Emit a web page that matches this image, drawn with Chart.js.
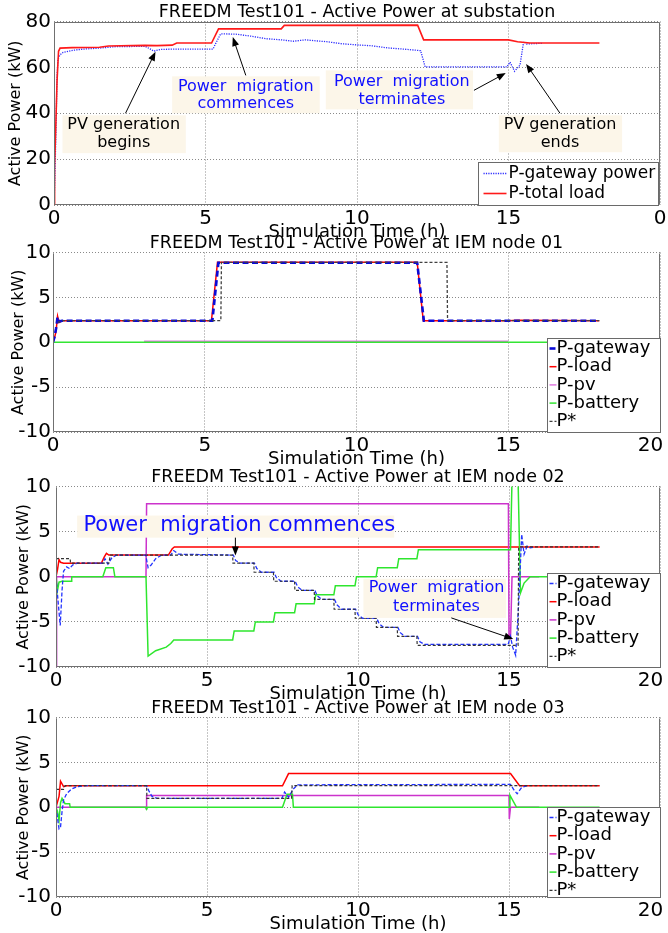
<!DOCTYPE html>
<html>
<head>
<meta charset="utf-8">
<script src="https://cdn.jsdelivr.net/npm/chart.js@4.4.0/dist/chart.umd.min.js"></script>
<style>
  html, body { margin: 0; padding: 0; background: #fff; overflow: hidden; }
  #wrap { position: relative; width: 668px; height: 933px; overflow: hidden; }
  canvas { position: absolute; left: 0; }
</style>
</head>
<body>
<div id="wrap">
  <canvas id="sub" width="668" height="246" style="top:-1px"></canvas>
  <canvas id="node1" width="668" height="242" style="top:230px"></canvas>
  <canvas id="node2" width="668" height="243" style="top:464px"></canvas>
  <canvas id="node3" width="668" height="242" style="top:695px"></canvas>
</div>
<script>
// axis ticks
const xTicks = [0, 5, 10, 15, 20];
const subXLabels = ['0', '5', '10', '15', '0'];
const nodeXLabels = ['0', '5', '10', '15', '20   '];   // last one sits left of its tick in the original
const subYTicks = [0, 20, 40, 60, 80];
const nodeYTicks = [-10, -5, 0, 5, 10];

// substation (kW vs hours)
const subGatewayTime = [0, 0.03, 0.06, 0.1, 0.13, 0.2, 0.3, 0.65, 1.0, 1.5, 2.0, 3.0, 3.15, 3.3, 3.5, 4.0, 5.25, 5.32, 5.5, 6.0, 6.5, 7.0, 7.5, 7.9, 8.3, 8.7, 9.0, 9.5, 10.0, 10.5, 11.0, 11.5, 12.1, 12.25, 14.95, 15.05, 15.2, 15.38, 15.5, 15.6, 16.1];
const subGatewayKw = [0, 12, 30, 56, 63.5, 65.5, 66.5, 67.5, 68.0, 68.4, 69.0, 69.2, 68.2, 67.1, 67.8, 68.0, 68.0, 70, 74.6, 74.5, 73.6, 72.5, 72.0, 71.4, 72.0, 71.5, 71.2, 70.3, 69.8, 69.4, 68.5, 68.0, 67.3, 60.2, 60.2, 62.3, 58.3, 61.0, 71.2, 70.2, 70.5];
const subLoadTime = [0, 0.02, 0.05, 0.1, 0.15, 0.2, 0.6, 1.5, 1.8, 3.0, 3.4, 3.9, 4.05, 5.2, 5.43, 7.5, 7.6, 12.0, 12.2, 15.0, 15.3, 15.7, 18.0];
const subLoadKw = [0, 17, 30, 54, 67, 68.4, 68.6, 68.8, 69.3, 69.6, 69.5, 69.7, 70.6, 70.6, 76.8, 76.8, 78.3, 78.4, 72.0, 72.0, 71.2, 70.6, 70.6];

// IEM node 01
const n1GatewayTime = [0, 0.05, 0.1, 0.15, 0.2, 0.3, 5.25, 5.45, 12.0, 12.22, 18.0];
const n1GatewayKw = [0, 0.6, 1.5, 2.8, 2.3, 2.4, 2.4, 8.85, 8.85, 2.4, 2.4];
const n1LoadTime = [0, 0.05, 0.1, 0.15, 0.2, 0.3, 5.22, 5.42, 12.0, 12.2, 15.0, 15.3, 18.0];
const n1LoadKw = [0, 0.5, 1.2, 2.9, 2.2, 2.4, 2.4, 8.9, 8.9, 2.4, 2.4, 2.45, 2.4];
const n1PvTime = [3.0, 15.0];
const n1PvKw = [0.1, 0.1];
const n1BatteryTime = [0, 18.0];
const n1BatteryKw = [0, 0];
const n1StarTime = [0.15, 0.3, 5.53, 5.55, 12.98, 13.0, 18.0];
const n1StarKw = [2.2, 2.4, 2.4, 8.9, 8.9, 2.4, 2.4];

// IEM node 02
const n2GatewayTime = [0, 0.05, 0.14, 0.2, 0.25, 0.35, 0.45, 0.55, 0.7, 1.55, 1.62, 1.72, 1.85, 2.0, 2.97, 3.05, 3.15, 3.3, 3.5, 3.8, 3.9, 4.05, 5.87, 5.95, 6.1, 6.57, 6.65, 6.8, 7.22, 7.3, 7.45, 7.92, 8.0, 8.15, 8.57, 8.65, 8.8, 9.22, 9.3, 9.45, 9.92, 10.0, 10.15, 10.62, 10.7, 10.85, 11.32, 11.4, 11.55, 11.97, 12.05, 12.2, 14.97, 15.05, 15.12, 15.22, 15.32, 15.42, 15.5, 15.6, 15.7, 15.85];
const n2GatewayKw = [0, -2.0, -5.4, -1.5, 0.6, 1.1, 0.9, 1.3, 1.5, 1.5, 2.0, 1.4, 2.1, 2.4, 2.4, 1.0, 1.3, 2.0, 2.4, 2.4, 2.9, 2.5, 2.4, 1.8, 1.5, 1.5, 0.9, 0.5, 0.5, -0.1, -0.5, -0.5, -1.1, -1.5, -1.5, -2.1, -2.5, -2.5, -3.1, -3.6, -3.6, -4.2, -4.6, -4.6, -5.2, -5.6, -5.6, -6.2, -6.6, -6.6, -7.2, -7.5, -7.5, -6.6, -7.8, -8.7, -3.0, 4.7, 2.5, 3.4, 3.2, 3.3];
const n2LoadTime = [0, 0.05, 0.1, 0.15, 0.25, 1.5, 1.6, 1.67, 1.75, 3.72, 3.85, 3.92, 18.0];
const n2LoadKw = [0, 0.8, 1.9, 1.6, 1.5, 1.5, 2.2, 2.6, 2.4, 2.4, 3.1, 3.3, 3.3];
const n2PvTime = [0, 0.02, 2.98, 3.0, 14.98, 15.0, 15.05, 15.1, 16.0];
const n2PvKw = [-10, 0, 0, 8.1, 8.1, -6.5, -6.8, 0, 0];
const n2BatteryTime = [0, 0.05, 0.1, 0.2, 0.5, 0.52, 1.55, 1.65, 1.9, 1.95, 2.98, 3.05, 3.3, 3.65, 3.8, 3.9, 5.85, 5.9, 6.55, 6.6, 7.2, 7.25, 7.9, 7.95, 8.55, 8.6, 9.2, 9.25, 9.9, 9.95, 10.6, 10.65, 11.3, 11.35, 11.95, 12.0, 15.05, 15.1, 15.3, 15.38, 15.5, 15.7, 18.0];
const n2BatteryKw = [0, -1.5, -0.6, -0.5, -0.5, 0, 0, 1.0, 1.0, 0, 0, -8.8, -8.2, -7.8, -7.4, -7.0, -7.0, -6.0, -6.0, -5.0, -5.0, -4.0, -4.0, -3.0, -3.0, -2.0, -2.0, -1.0, -1.0, 0, 0, 1.0, 1.0, 2.0, 2.0, 3.0, 3.0, 10.8, 10.8, -1.8, -0.7, 0, 0];
const n2StarTime = [0, 0.47, 0.48, 1.75, 1.8, 5.85, 5.86, 6.55, 6.56, 7.2, 7.21, 7.9, 7.91, 8.55, 8.56, 9.2, 9.21, 9.9, 9.91, 10.6, 10.61, 11.3, 11.31, 11.95, 11.96, 15.3, 15.32, 18.0];
const n2StarKw = [2.0, 2.0, 1.5, 1.5, 2.4, 2.4, 1.5, 1.5, 0.5, 0.5, -0.5, -0.5, -1.5, -1.5, -2.5, -2.5, -3.6, -3.6, -4.6, -4.6, -5.6, -5.6, -6.6, -6.6, -7.6, -7.6, 3.3, 3.3];

// IEM node 03
const n3GatewayTime = [0, 0.05, 0.1, 0.15, 0.2, 0.25, 0.35, 0.5, 0.7, 1.0, 3.0, 3.08, 3.18, 3.35, 7.48, 7.57, 7.7, 7.85, 8.0, 8.3, 15.05, 15.15, 15.27, 15.42, 15.6];
const n3GatewayKw = [0, -1.2, -2.4, -2.2, -0.5, 0.8, 1.5, 2.0, 2.3, 2.4, 2.4, 1.8, 1.2, 1.0, 1.0, 1.7, 1.1, 2.0, 2.5, 2.5, 2.55, 2.0, 1.5, 2.2, 2.4];
const n3LoadTime = [0, 0.05, 0.1, 0.15, 0.25, 0.35, 7.5, 7.7, 15.05, 15.35, 18.0];
const n3LoadKw = [0, 0.6, 1.2, 2.9, 2.3, 2.4, 2.4, 3.75, 3.75, 2.4, 2.4];
const n3PvTime = [0, 0.01, 2.97, 2.99, 3.0, 15.0, 15.01, 15.05, 16.0];
const n3PvKw = [-4.5, 0, 0, -0.2, 1.3, 1.3, -1.3, 0, 0];
const n3BatteryTime = [0, 0.05, 0.1, 0.15, 0.2, 0.3, 0.45, 0.47, 2.98, 3.0, 3.03, 7.5, 7.65, 7.83, 7.86, 15.0, 15.03, 15.25, 18.0];
const n3BatteryKw = [0, -0.5, -1.5, 0.5, 1.0, 0.4, 0.4, 0, 0, -0.2, 0, 0, 1.45, 1.45, 0, 0, 1.35, 0, 0];
const n3StarTime = [0, 0.25, 0.3, 3.0, 3.01, 7.8, 7.82, 18.0];
const n3StarKw = [2.0, 2.0, 2.4, 2.4, 1.0, 1.0, 2.4, 2.4];

Chart.defaults.font.family = '"DejaVu Sans", Verdana, sans-serif';
Chart.defaults.color = '#000';

const pts = (t, v) => t.map((x, i) => ({ x: x, y: v[i] }));

function line(label, t, v, color, width, dash, order) {
  return { label: label, data: pts(t, v), borderColor: color, borderWidth: width,
           borderDash: dash || [], order: order, pointRadius: 0, tension: 0, fill: false };
}

function arrow(ctx, x0, y0, x1, y1) {
  const ang = Math.atan2(y1 - y0, x1 - x0);
  ctx.strokeStyle = '#000';
  ctx.fillStyle = '#000';
  ctx.lineWidth = 1;
  ctx.setLineDash([]);
  ctx.beginPath();
  ctx.moveTo(x0, y0);
  ctx.lineTo(x1 - 6 * Math.cos(ang), y1 - 6 * Math.sin(ang));
  ctx.stroke();
  ctx.beginPath();
  ctx.moveTo(x1, y1);
  ctx.lineTo(x1 - 9 * Math.cos(ang) + 3.5 * Math.sin(ang), y1 - 9 * Math.sin(ang) - 3.5 * Math.cos(ang));
  ctx.lineTo(x1 - 9 * Math.cos(ang) - 3.5 * Math.sin(ang), y1 - 9 * Math.sin(ang) + 3.5 * Math.cos(ang));
  ctx.closePath();
  ctx.fill();
}

// frame, text notes and boxed legend, drawn over the plot
const decor = {
  id: 'decor',
  afterDraw(chart, args, o) {
    const { ctx, chartArea: a, scales: { x, y } } = chart;
    ctx.save();
    const L = Math.round(a.left) + 0.5, R = Math.round(a.right) - 0.5;
    const T = Math.round(a.top) + 0.5, B = Math.round(a.bottom) - 0.5;
    ctx.strokeStyle = '#707070';
    ctx.lineWidth = 1;
    ctx.beginPath();
    ctx.moveTo(R, T); ctx.lineTo(R, B); ctx.lineTo(L, B); ctx.lineTo(L, T);
    if (o.topLine) ctx.lineTo(R, T);
    ctx.stroke();

    (o.notes || []).forEach(n => {
      const bx0 = x.getPixelForValue(n.box[0]), bx1 = x.getPixelForValue(n.box[1]);
      const by0 = y.getPixelForValue(n.box[3]), by1 = y.getPixelForValue(n.box[2]);
      ctx.fillStyle = '#fcf6e9';
      ctx.fillRect(bx0, by0, bx1 - bx0, by1 - by0);
      ctx.fillStyle = n.color;
      ctx.font = n.size + 'px "DejaVu Sans"';
      ctx.textAlign = 'center';
      ctx.textBaseline = 'middle';
      n.lines.forEach((s, i) => ctx.fillText(s, x.getPixelForValue(n.at), y.getPixelForValue(n.rows[i])));
      if (n.arrow) {
        arrow(ctx, x.getPixelForValue(n.arrow[0]), y.getPixelForValue(n.arrow[1]),
                   x.getPixelForValue(n.arrow[2]), y.getPixelForValue(n.arrow[3]));
      }
    });

    const lg = o.box;
    if (lg) {
      const bx = Math.round(a.right - lg.inset - lg.w) + 0.5;
      const by = Math.round(a.bottom - lg.h) + 0.5;
      ctx.fillStyle = '#fff';
      ctx.fillRect(bx, by, lg.w, lg.h);
      ctx.strokeStyle = '#6a6a6a';
      ctx.lineWidth = 1;
      ctx.strokeRect(bx, by, lg.w, lg.h);
      ctx.font = lg.size + 'px "DejaVu Sans"';
      ctx.textAlign = 'left';
      ctx.textBaseline = 'middle';
      chart.data.datasets.forEach((ds, i) => {
        const ry = by + lg.first + i * lg.step;
        ctx.strokeStyle = ds.borderColor;
        ctx.lineWidth = ds.borderWidth;
        ctx.setLineDash(ds.borderDash);
        ctx.beginPath();
        ctx.moveTo(bx + lg.s0, ry);
        ctx.lineTo(bx + lg.s1, ry);
        ctx.stroke();
        ctx.setLineDash([]);
        ctx.fillStyle = '#000';
        ctx.fillText(ds.label, bx + lg.tx, ry);
      });
    }
    ctx.restore();
  }
};

function panel(id, cfg, datasets) {
  return new Chart(document.getElementById(id), {
    type: 'line',
    data: { datasets: datasets },
    options: {
      responsive: false,
      animation: false,
      events: [],
      layout: { padding: { left: 0, right: 8, top: 0, bottom: 0 } },
      plugins: {
        legend: { display: false },
        tooltip: { enabled: false },
        title: {
          display: true, text: cfg.title, color: '#000', fullSize: false,
          font: { size: 17.5, weight: 'normal', lineHeight: 1 },
          padding: { top: 4.5, bottom: 0.5 }
        },
        decor: { topLine: cfg.topLine, notes: cfg.notes, box: cfg.box }
      },
      scales: {
        x: {
          type: 'linear', min: 0, max: 20,
          afterBuildTicks: s => { s.ticks = xTicks.map(v => ({ value: v })); },
          ticks: { font: { size: 20 }, padding: 2, maxRotation: 0, autoSkip: false,
                   callback: (v, i) => cfg.xLabels[i] },
          grid: { color: '#8a8a8a', lineWidth: 1, drawTicks: false },
          border: { display: false, dash: [1, 2] },
          title: { display: true, text: 'Simulation Time (h)', font: { size: 18 },
                   padding: { top: 0, bottom: 1.8 } },
          afterFit: s => { s.height = 40; s.paddingLeft = 0; s.paddingRight = 0; }
        },
        y: {
          type: 'linear', min: cfg.yTicks[0], max: cfg.yTicks[cfg.yTicks.length - 1],
          afterBuildTicks: s => { s.ticks = cfg.yTicks.map(v => ({ value: v })); },
          ticks: { font: { size: 20 }, padding: cfg.left - 51 },
          grid: { color: '#8a8a8a', lineWidth: 1, drawTicks: false },
          border: { display: false, dash: [1, 2] },
          title: { display: true, text: 'Active Power (kW)', font: { size: 16 },
                   padding: { top: cfg.yTitleX - 9.6, bottom: 0 } },
          afterFit: s => { s.width = cfg.left; s.paddingTop = 0; s.paddingBottom = 0; }
        }
      }
    },
    plugins: [decor]
  });
}

const nodeBox = h => ({ inset: 0, w: 113, h: h, first: 10, step: 18.2, s0: 2, s1: 9, tx: 9, size: 18 });

panel('sub', {
  title: 'FREEDM Test101 - Active Power at substation', xLabels: subXLabels, yTicks: subYTicks,
  left: 54, yTitleX: 16, topLine: true,
  box: { inset: 2, w: 180, h: 43, first: 11, step: 20, s0: 5, s1: 28, tx: 30, size: 17 },
  notes: [
    { box: [0.28, 4.35, 22.6, 39.1], at: 2.3, rows: [34.8, 27], lines: ['PV generation', 'begins'],
      color: '#000', size: 16, arrow: [2.36, 40, 3.35, 66.8] },
    { box: [3.9, 8.77, 40, 56.1], at: 6.33, rows: [51.7, 43.9], lines: ['Power  migration', 'commences'],
      color: '#1010ff', size: 16, arrow: [6.33, 56.5, 5.9, 73.2] },
    { box: [8.97, 13.83, 41.7, 58.7], at: 11.48, rows: [53.9, 46], lines: ['Power  migration', 'terminates'],
      color: '#1010ff', size: 16, arrow: [13.86, 50, 14.91, 57.5] },
    { box: [14.68, 18.75, 23, 39.1], at: 16.7, rows: [34.8, 27], lines: ['PV generation', 'ends'],
      color: '#000', size: 16, arrow: [16.7, 40, 15.58, 61.5] }
  ]
}, [
  line('P-gateway power', subGatewayTime, subGatewayKw, '#2b2bff', 1.3, [1.2, 1.2], 1),
  line('P-total load', subLoadTime, subLoadKw, '#ff1a1a', 1.6, [], 0)
]);

panel('node1', {
  title: 'FREEDM Test101 - Active Power at IEM node 01', xLabels: nodeXLabels, yTicks: nodeYTicks,
  left: 53, yTitleX: 19, topLine: false, box: nodeBox(94), notes: []
}, [
  line('P-gateway', n1GatewayTime, n1GatewayKw, '#0a0ad8', 2.6, [6, 3.5], 1),
  line('P-load', n1LoadTime, n1LoadKw, '#ff0000', 1.5, [], 4),
  line('P-pv', n1PvTime, n1PvKw, '#e07ae0', 1.5, [], 3),
  line('P-battery', n1BatteryTime, n1BatteryKw, '#33e633', 1.5, [], 2),
  line('P*', n1StarTime, n1StarKw, '#404040', 1.3, [3, 2], 0)
]);

panel('node2', {
  title: 'FREEDM Test101 - Active Power at IEM node 02', xLabels: nodeXLabels, yTicks: nodeYTicks,
  left: 56, yTitleX: 24, topLine: false, box: nodeBox(94),
  notes: [
    { box: [0.7, 11.2, 4.33, 6.78], at: 6.07, rows: [5.67], lines: ['Power  migration commences'],
      color: '#1010ff', size: 21, arrow: [5.94, 4.33, 5.94, 2.35] },
    { box: [10.18, 14.9, -4.56, -0.22], at: 12.6, rows: [-1.22, -3.33], lines: ['Power  migration', 'terminates'],
      color: '#1010ff', size: 16, arrow: [13.09, -4.56, 15.14, -6.9] }
  ]
}, [
  line('P-gateway', n2GatewayTime, n2GatewayKw, '#2233ff', 1.3, [4, 2], 1),
  line('P-load', n2LoadTime, n2LoadKw, '#ff0000', 1.5, [], 4),
  line('P-pv', n2PvTime, n2PvKw, '#cc33cc', 1.5, [], 3),
  line('P-battery', n2BatteryTime, n2BatteryKw, '#2ee62e', 1.5, [], 2),
  line('P*', n2StarTime, n2StarKw, '#333333', 1.2, [3, 2], 0)
]);

panel('node3', {
  title: 'FREEDM Test101 - Active Power at IEM node 03', xLabels: nodeXLabels, yTicks: nodeYTicks,
  left: 56, yTitleX: 24, topLine: false, box: nodeBox(90), notes: []
}, [
  line('P-gateway', n3GatewayTime, n3GatewayKw, '#2233ff', 1.3, [4, 2], 1),
  line('P-load', n3LoadTime, n3LoadKw, '#ff0000', 1.5, [], 4),
  line('P-pv', n3PvTime, n3PvKw, '#cc33cc', 1.5, [], 3),
  line('P-battery', n3BatteryTime, n3BatteryKw, '#2ee62e', 1.5, [], 2),
  line('P*', n3StarTime, n3StarKw, '#333333', 1.2, [3, 2], 0)
]);
</script>
</body>
</html>
